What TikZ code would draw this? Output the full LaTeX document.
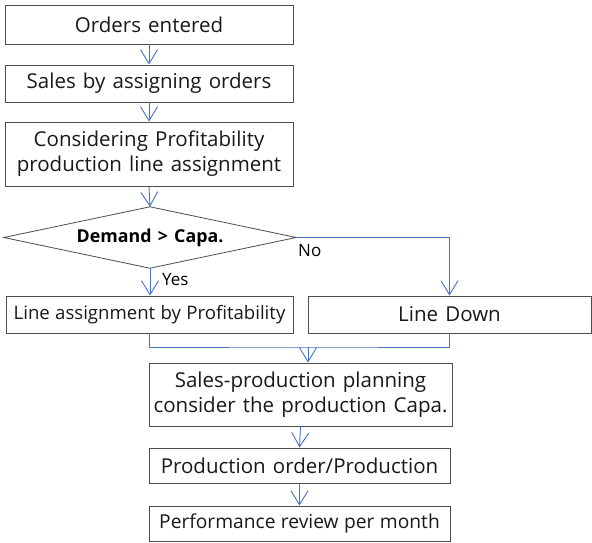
\documentclass[tikz,border=0pt]{standalone}
\usepackage{fontspec}
\setmainfont{Open Sans}[WordSpace={1.35,1,1}]
\newfontfamily\tightfont{Open Sans}[WordSpace={1.1,1,1}]
\usetikzlibrary{arrows.meta}
\definecolor{edgegray}{HTML}{4D4D4D}
\definecolor{flowblue}{HTML}{4472C4}
\begin{document}
\begin{tikzpicture}[x=1pt,y=-1pt,
  box/.style={draw=edgegray,line width=0.9pt,rectangle,inner sep=0pt,
    align=center,font=\fontsize{20.5}{25}\selectfont,text=black!90},
  flow/.style={draw=flowblue,line width=0.9pt,-{Straight Barb[length=14pt,width=17pt,line width=0.9pt]}},
  link/.style={draw=flowblue,line width=0.9pt},
  tag/.style={font=\fontsize{17}{19}\selectfont,inner sep=0pt}]
\useasboundingbox (0,0) rectangle (592,543);
\fill[white] (0,0) rectangle (592,543);

% main column
\node[box,minimum width=288,minimum height=39] (orders) at (149,24.5) {Orders entered};
\node[box,minimum width=288,minimum height=37] (sales) at (149,83.5) {Sales by assigning orders};
\node[box,minimum width=288,minimum height=64] (profit) at (149,154)
  {Considering Profitability\\production line assignment};

% decision: an invisible frame whose side anchors carry the diamond
\node[minimum width=292,minimum height=61,inner sep=0pt,
  font=\bfseries\fontsize{17.8}{20}\selectfont] (demand) at (150,237.5) {Demand > Capa.};
\draw[edgegray,line width=0.8pt,line join=miter]
  (demand.west) -- (demand.north) -- (demand.east) -- (demand.south) -- cycle;

% branches
\node[box,minimum width=287,minimum height=37,
  font=\tightfont\fontsize{18.6}{22}\selectfont] (lineassign) at (149.5,314.5) {Line assignment by Profitability};
\node[box,minimum width=283,minimum height=37] (linedown) at (449.5,314.5) {Line Down};

% lower column
\node[box,minimum width=303,minimum height=63] (planning) at (300.5,394.5)
  {Sales-production planning\\consider the production Capa.};
\node[box,minimum width=301,minimum height=35] (prodorder) at (299.5,465.5) {Production order/Production};
\node[box,minimum width=301,minimum height=35,
  font=\tightfont\fontsize{19.2}{22}\selectfont] (review) at (299.5,523.5) {Performance review per month};

\coordinate (merge) at (308,347);

% connectors
\draw[flow] (orders) -- (sales);
\draw[flow] (sales) -- (profit);
\draw[flow] (profit.south) -- (demand.north);
\draw[flow] (demand.south) -- (demand.south |- lineassign.north);
\draw[flow] (demand.east) -| (linedown.north);
\draw[link] (lineassign.south) |- (merge) -| (linedown.south);
\draw[flow] (merge) -- (merge |- planning.north);
\draw[flow] (planning.south) -- (prodorder.north);
\draw[flow] (prodorder.south) -- (review.north);

% branch labels
\node[tag,anchor=west] (yes) at (162,280) {Yes};
\node[tag,anchor=west] (no) at (298,251) {No};
\end{tikzpicture}
\end{document}
